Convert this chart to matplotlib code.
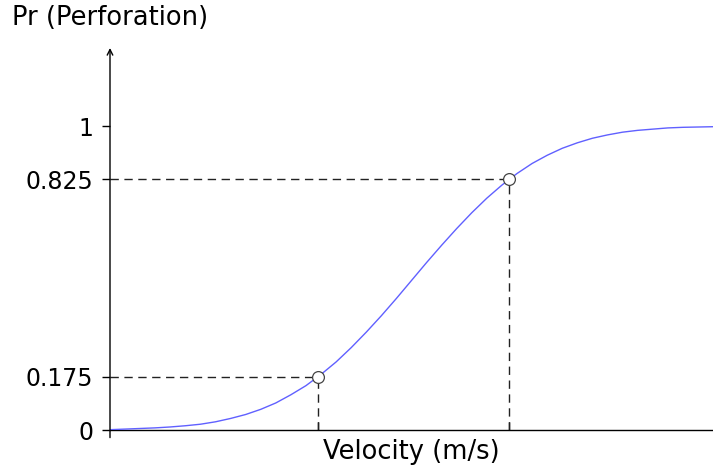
import numpy as np
import matplotlib
matplotlib.use("Agg")
import matplotlib.pyplot as plt

# curve (velocity in arbitrary units 0..10)
velocity = [0.0, 0.25, 0.5, 0.75, 1.0, 1.25, 1.5, 1.75, 2.0, 2.25, 2.5,
            2.75, 3.0, 3.25, 3.5, 3.75, 4.0, 4.25, 4.5, 4.75, 5.0,
            5.25, 5.5, 5.75, 6.0, 6.25, 6.5, 6.75, 7.0, 7.25, 7.5,
            7.75, 8.0, 8.25, 8.5, 8.75, 9.0, 9.25, 9.5, 9.75, 10.0]
prob = [0.001, 0.003, 0.005, 0.007, 0.010, 0.014, 0.019, 0.027, 0.038, 0.051, 0.068,
        0.089, 0.116, 0.146, 0.183, 0.224, 0.271, 0.322, 0.376, 0.433, 0.492,
        0.551, 0.608, 0.663, 0.715, 0.763, 0.806, 0.844, 0.877, 0.904, 0.927,
        0.945, 0.960, 0.971, 0.980, 0.986, 0.990, 0.994, 0.996, 0.997, 0.998]

# highlighted points
pt_x = [3.45, 6.62]
pt_y = [0.175, 0.825]

ytick_vals = [0, 0.175, 0.825, 1]
ytick_labels = ["0", "0.175", "0.825", "1"]

plt.rcParams['font.family'] = 'DejaVu Sans'

fig = plt.figure(figsize=(7.13, 4.70), dpi=100)
ax = fig.add_axes([110 / 713, 40 / 470, 603 / 713, 382 / 470])

ax.plot(velocity, prob, color='#6060ff', lw=1.0, zorder=3)

for x, y in zip(pt_x, pt_y):
    ax.plot([0, x], [y, y], ls=(0, (6, 4)), color='#222222', lw=1.0, zorder=2)
    ax.plot([x, x], [0, y], ls=(0, (6, 4)), color='#222222', lw=1.0, zorder=2)
ax.plot(pt_x, pt_y, 'o', ms=8.5, mfc='white', mec='#444444', mew=0.9, zorder=4)

ax.set_xlim(0, 10)
ax.set_ylim(0, 1.257)

for s in ['top', 'right', 'left']:
    ax.spines[s].set_visible(False)
ax.spines['bottom'].set_linewidth(1.0)

# y axis with arrow
ax.annotate('', xy=(0, 1.257), xytext=(0, -0.025),
            arrowprops=dict(arrowstyle='->', lw=1.0, color='black',
                            shrinkA=0, shrinkB=0), annotation_clip=False)

ax.set_yticks(ytick_vals)
ax.set_yticklabels(ytick_labels, fontsize=17)
ax.tick_params(axis='y', direction='out', length=6, width=1.0, pad=6)

ax.set_xticks(pt_x)
ax.set_xticklabels([])
ax.tick_params(axis='x', direction='in', length=6, width=1.0)

ax.set_xlabel('Velocity (m/s)', fontsize=18.5, labelpad=3)
fig.text(12 / 713, 1 - 5 / 470, 'Pr (Perforation)', fontsize=18.5, va='top', ha='left')

fig.savefig('out.png', dpi=100)
